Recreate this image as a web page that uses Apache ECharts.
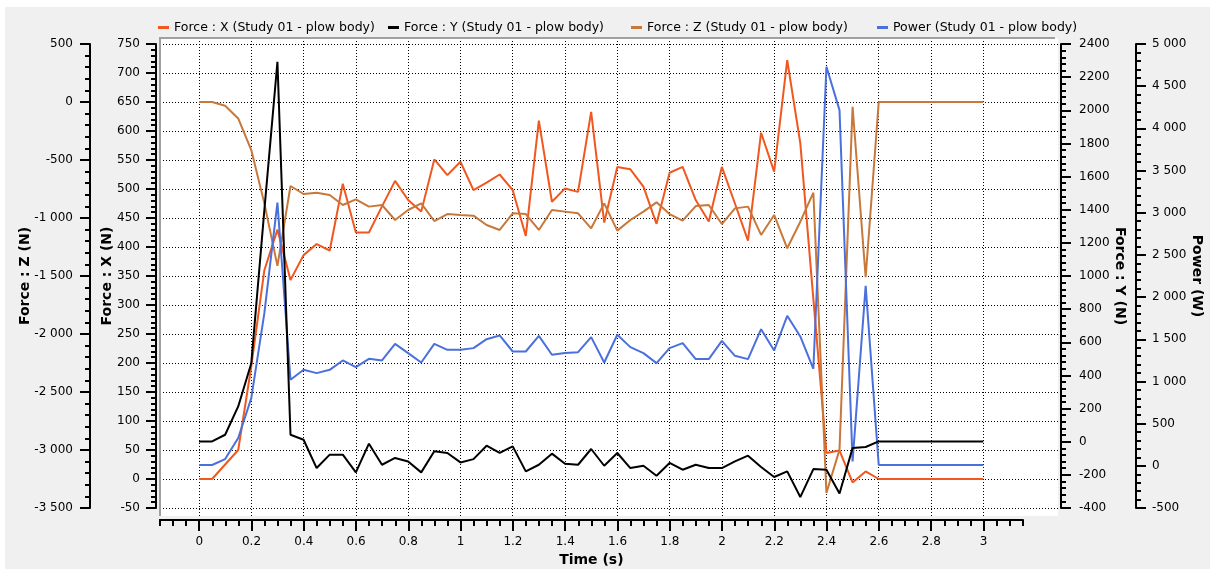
<!DOCTYPE html>
<html>
<head>
<meta charset="utf-8">
<script src="https://cdn.jsdelivr.net/npm/echarts@6/dist/echarts.min.js"></script>
<style>
  html, body { margin: 0; padding: 0; background: #fff; }
  #main { width: 1210px; height: 569px; }
</style>
</head>
<body>
<div id="main"></div>
<script>
// sample times (s)
const times = [0, 0.05, 0.1, 0.15, 0.2, 0.25, 0.3, 0.35, 0.4, 0.45, 0.5, 0.55, 0.6, 0.65, 0.7, 0.75,
  0.8, 0.85, 0.9, 0.95, 1, 1.05, 1.1, 1.15, 1.2, 1.25, 1.3, 1.35, 1.4, 1.45, 1.5, 1.55,
  1.6, 1.65, 1.7, 1.75, 1.8, 1.85, 1.9, 1.95, 2, 2.05, 2.1, 2.15, 2.2, 2.25, 2.3, 2.35,
  2.4, 2.45, 2.5, 2.55, 2.6, 2.65, 2.7, 2.75, 2.8, 2.85, 2.9, 2.95, 3];

// labelled time ticks
const timeTicks = [0, 0.2, 0.4, 0.6, 0.8, 1, 1.2, 1.4, 1.6, 1.8, 2, 2.2, 2.4, 2.6, 2.8, 3];

// Force : X (N)
const forceX = [0, 0, 25, 50, 194, 360, 430, 343, 386, 405, 394, 509, 425, 425, 470, 514,
  481, 461, 551, 524, 547, 498, 511, 525, 498, 419, 618, 478, 501, 495, 633, 442,
  538, 534, 504, 440, 528, 538, 481, 444, 538, 475, 411, 597, 530, 722, 579, 310,
  45, 49, -6, 13, 0, 0, 0, 0, 0, 0, 0, 0, 0];

// Force : Y (N)
const forceY = [2, 2, 42, 213, 474, 1398, 2293, 42, 12, -159, -78, -78, -185, -12, -139, -98,
  -119, -185, -58, -68, -125, -105, -24, -68, -28, -179, -139, -72, -133, -139, -44, -145,
  -68, -159, -145, -205, -128, -169, -139, -159, -159, -119, -84, -153, -213, -179, -334, -165,
  -169, -313, -38, -32, 2, 2, 2, 2, 2, 2, 2, 2, 2];

// Force : Z (N)
const forceZ = [0, 0, -33, -142, -414, -874, -1413, -724, -793, -782, -802, -888, -839, -902, -888, -1017,
  -931, -874, -1026, -966, -974, -980, -1060, -1103, -960, -966, -1103, -931, -945, -960, -1089, -874,
  -1109, -1017, -945, -865, -966, -1023, -897, -888, -1052, -917, -902, -1146, -974, -1261, -1032, -782,
  -3370, -2997, -41, -1511, 0, 0, 0, 0, 0, 0, 0, 0, 0];

// Power (W)
const power = [10, 10, 80, 329, 803, 1809, 3120, 1020, 1138, 1099, 1138, 1249, 1170, 1268, 1249, 1446,
  1336, 1225, 1446, 1375, 1375, 1395, 1501, 1545, 1355, 1355, 1541, 1316, 1336, 1347, 1525, 1225,
  1553, 1407, 1336, 1217, 1395, 1454, 1265, 1265, 1481, 1304, 1265, 1620, 1367, 1778, 1533, 1150,
  4730, 4216, 53, 2133, 10, 10, 10, 10, 10, 10, 10, 10, 10];

const names = {
  x: 'Force : X (Study 01 - plow body)',
  y: 'Force : Y (Study 01 - plow body)',
  z: 'Force : Z (Study 01 - plow body)',
  p: 'Power (Study 01 - plow body)'
};
const colors = { x: '#f0581f', y: '#000000', z: '#c8783a', p: '#4a70dc' };

// layout (px)
const FONT = 'DejaVu Sans';
const plotL = 160, plotR = 1058, plotT = 38, plotB = 516;   // white panel
const axT = 44, axB = 508;                                   // drawn y axes
const t0 = 199, t3 = 983.3;                                  // x pixel of 0 s and 3 s
const pxPerSec = (t3 - t0) / 3;

// stretch an axis range drawn on axT..axB to the whole panel
function panelRange(min, max) {
  const per = (max - min) / (axB - axT);
  return { min: min - (plotB - axB) * per, max: max + (axT - plotT) * per };
}
const plain = v => String(v);
const spaced = v => String(v).replace(/\B(?=(\d{3})+(?!\d))/g, ' ');
const pair = vals => times.map((t, i) => [t, vals[i]]);

const black = { color: '#000', width: 2 };
const lblStyle = { color: '#000', fontFamily: FONT, fontSize: 12 };
const nameStyle = { color: '#000', fontFamily: FONT, fontSize: 14, fontWeight: 'bold' };

function visibleY(o) {
  return Object.assign({
    type: 'value', gridIndex: 1, nameLocation: 'middle', nameMoveOverlap: false,
    nameTextStyle: nameStyle,
    axisLine: { show: true, onZero: false, lineStyle: { color: '#000', width: 2 } },
    axisTick: { show: true, length: 10, lineStyle: black },
    minorTick: { show: true, splitNumber: 5, length: 5, lineStyle: black },
    splitLine: { show: false }
  }, o);
}
const hiddenY = (grid, r) => Object.assign({ type: 'value', gridIndex: grid, show: false }, r || { min: 0, max: 1 });

const chart = echarts.init(document.getElementById('main'));
chart.setOption({
  animation: false,
  backgroundColor: '#f0f0f0',
  graphic: [
    { type: 'rect', shape: { x: 0, y: 0, width: 1210, height: 7 }, style: { fill: '#fff' }, z: -10 },
    { type: 'rect', shape: { x: 0, y: 0, width: 5, height: 569 }, style: { fill: '#fff' }, z: -10 },
    { type: 'polyline', shape: { points: [[plotL, plotB], [plotL, plotT], [plotR - 3, plotT]] },
      style: { stroke: '#a0a0a0', lineWidth: 2, fill: null }, z: 50 }
  ],
  legend: [
    { left: 153, data: [names.x] },
    { left: 383, data: [names.y] },
    { left: 626, data: [names.z] },
    { left: 872, data: [names.p] }
  ].map(l => Object.assign({
    top: 16, icon: 'rect', itemWidth: 11, itemHeight: 3, selectedMode: false,
    textStyle: { color: '#000', fontFamily: FONT, fontSize: 12.5 }
  }, l)),
  grid: [
    { left: plotL, top: plotT, width: plotR - plotL, height: plotB - plotT, show: true,
      backgroundColor: '#fff', borderWidth: 0, outerBoundsMode: 'none' },
    { left: plotL, top: axT, width: plotR - plotL, height: axB - axT, outerBoundsMode: 'none' },
    { left: plotL, top: 519, width: (3.15 + 0.15) * pxPerSec, height: 1, outerBoundsMode: 'none' },
    { left: t0, top: plotT, width: t3 - t0, height: plotB - plotT, outerBoundsMode: 'none' }
  ],
  xAxis: [
    { type: 'value', gridIndex: 0, show: false,
      min: (plotL - t0) / pxPerSec, max: (plotR - t0) / pxPerSec },
    { type: 'value', gridIndex: 1, show: false, min: 0, max: 1 },
    // drawn time axis: minor ticks every 0.05 s
    { type: 'value', gridIndex: 2, position: 'bottom', min: -0.15, max: 3.15, interval: 0.05,
      axisLine: { show: true, onZero: false, lineStyle: { color: '#000', width: 2 } },
      axisTick: { show: true, length: 6, lineStyle: black },
      axisLabel: { show: false }, splitLine: { show: false } },
    // drawn time axis: labelled major ticks
    { type: 'value', gridIndex: 2, position: 'bottom', min: -0.15, max: 3.15,
      name: 'Time (s)', nameLocation: 'middle', nameGap: 33, nameTextStyle: nameStyle,
      nameMoveOverlap: false,
      axisLine: { show: true, onZero: false, lineStyle: { color: '#000', width: 2 } },
      axisTick: { show: true, length: 11, lineStyle: black, customValues: timeTicks },
      axisLabel: Object.assign({ margin: 16, customValues: timeTicks, formatter: plain }, lblStyle),
      splitLine: { show: false } },
    // vertical dotted grid
    { type: 'value', gridIndex: 3, min: 0, max: 3, interval: 0.2,
      axisLine: { show: false }, axisTick: { show: false }, axisLabel: { show: false },
      splitLine: { show: true, lineStyle: { color: '#000', width: 1, type: [1, 2] } } }
  ],
  yAxis: [
    hiddenY(0, panelRange(-50, 750)),
    hiddenY(0, panelRange(-400, 2400)),
    hiddenY(0, panelRange(-3500, 500)),
    hiddenY(0, panelRange(-500, 5000)),
    visibleY({ name: 'Force : Z (N)', position: 'left', offset: 70, nameGap: 58, nameRotate: 90,
      min: -3500, max: 500, interval: 500, axisLabel: Object.assign({ margin: 17, formatter: spaced }, lblStyle) }),
    visibleY({ name: 'Force : X (N)', position: 'left', offset: 4, nameGap: 42, nameRotate: 90,
      min: -50, max: 750, interval: 50, axisLabel: Object.assign({ margin: 16, formatter: plain }, lblStyle),
      splitLine: { show: true, lineStyle: { color: '#000', width: 1, type: [1, 2] } } }),
    visibleY({ name: 'Force : Y (N)', position: 'right', offset: 3, nameGap: 52, nameRotate: -90,
      min: -400, max: 2400, interval: 200, axisLabel: Object.assign({ margin: 18, formatter: plain }, lblStyle) }),
    visibleY({ name: 'Power (W)', position: 'right', offset: 78, nameGap: 54, nameRotate: -90,
      min: -500, max: 5000, interval: 500, axisLabel: Object.assign({ margin: 16, formatter: spaced }, lblStyle) }),
    hiddenY(2), hiddenY(3)
  ],
  series: [
    { name: names.x, type: 'line', xAxisIndex: 0, yAxisIndex: 0, data: pair(forceX), color: colors.x },
    { name: names.z, type: 'line', xAxisIndex: 0, yAxisIndex: 2, data: pair(forceZ), color: colors.z },
    { name: names.p, type: 'line', xAxisIndex: 0, yAxisIndex: 3, data: pair(power), color: colors.p },
    { name: names.y, type: 'line', xAxisIndex: 0, yAxisIndex: 1, data: pair(forceY), color: colors.y }
  ].map(s => Object.assign({ showSymbol: false, symbol: 'none', lineStyle: { width: 2 }, z: 3 }, s))
});
</script>
</body>
</html>
